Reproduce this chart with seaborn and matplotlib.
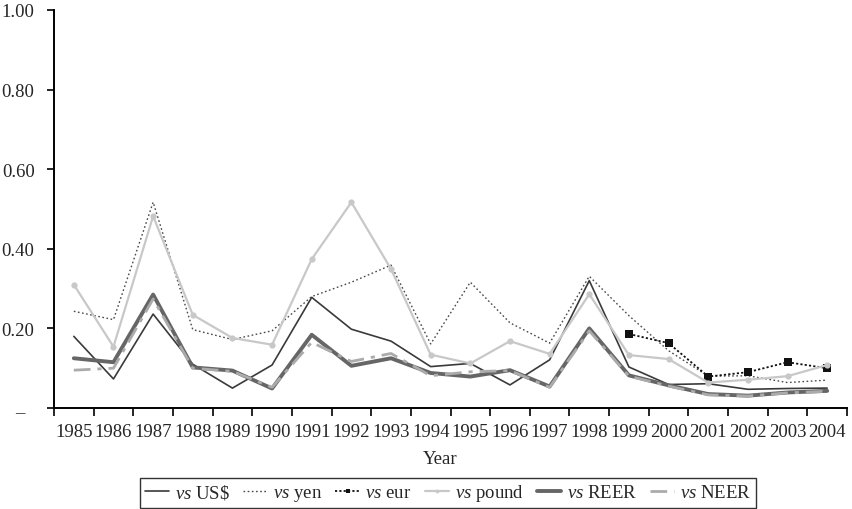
import numpy as np
import pandas as pd
import matplotlib
matplotlib.use("Agg")
import matplotlib.pyplot as plt
import matplotlib.transforms as mtransforms
import seaborn as sns

sns.set_theme(style="white")
plt.rcParams['font.family'] = ['Liberation Serif', 'DejaVu Serif']
plt.rcParams['mathtext.fontset'] = 'custom'
plt.rcParams['mathtext.rm'] = 'Liberation Serif'
plt.rcParams['mathtext.it'] = 'Liberation Serif:italic'

years = list(range(1985, 2005))
usd = [0.180, 0.073, 0.236, 0.110, 0.050, 0.108, 0.278, 0.198, 0.168, 0.104, 0.112, 0.058, 0.121, 0.320, 0.103, 0.059, 0.061, 0.047, 0.049, 0.050]
yen = [0.243, 0.222, 0.517, 0.197, 0.172, 0.194, 0.280, 0.316, 0.359, 0.161, 0.316, 0.214, 0.163, 0.331, 0.232, 0.144, 0.080, 0.081, 0.064, 0.070]
eur = [np.nan] * 14 + [0.186, 0.163, 0.079, 0.090, 0.115, 0.100]
pound = [0.310, 0.154, 0.482, 0.234, 0.176, 0.159, 0.374, 0.517, 0.349, 0.134, 0.112, 0.168, 0.136, 0.286, 0.133, 0.123, 0.064, 0.071, 0.080, 0.108]
reer = [0.125, 0.115, 0.285, 0.102, 0.094, 0.049, 0.184, 0.106, 0.125, 0.088, 0.079, 0.095, 0.054, 0.200, 0.082, 0.057, 0.035, 0.031, 0.039, 0.043]
neer = [0.095, 0.100, 0.274, 0.100, 0.092, 0.052, 0.165, 0.117, 0.137, 0.081, 0.091, 0.094, 0.052, 0.194, 0.080, 0.055, 0.033, 0.030, 0.038, 0.042]

labels = [r"$\it{vs}$ US\$", r"$\it{vs}$ yen", r"$\it{vs}$ eur", r"$\it{vs}$ pound", r"$\it{vs}$ REER", r"$\it{vs}$ NEER"]
series = [usd, yen, eur, pound, reer, neer]
ytick_vals = [0, 0.2, 0.4, 0.6, 0.8, 1.0]
ytick_labels = ["–", "0.20", "0.40", "0.60", "0.80", "1.00"]

styles = [
    dict(color="#3a3a3a", lw=1.2, ls="-", marker=None),
    dict(color="#4a4a4a", lw=1.0, ls=(0, (1.2, 1.8)), marker=None),
    dict(color="#111111", lw=1.3, ls=(0, (1.2, 1.2)), marker="s", ms=5.5),
    dict(color="#c8c8c8", lw=1.6, ls="-", marker="o", ms=4.5),
    dict(color="#666666", lw=2.8, ls="-", marker=None),
    dict(color="#ababab", lw=2.0, ls=(0, (6, 2.5, 1.5, 2.5)), marker=None),
]

fig = plt.figure(figsize=(8.52, 5.10), dpi=100)
ax = fig.add_axes([54/852, 1 - 409/510, (847-54)/852, (409-11)/510])

for lab, vals, st in zip(labels, series, styles):
    df = pd.DataFrame({"year": years, "value": vals})
    kw = dict(color=st["color"], linewidth=st["lw"], linestyle=st["ls"], label=lab)
    if st["marker"]:
        kw.update(marker=st["marker"], markersize=st["ms"], markeredgewidth=0,
                  markerfacecolor=st["color"])
    sns.lineplot(data=df, x="year", y="value", ax=ax, **kw)

ax.set_xlim(1984.5, 2004.5)
ax.set_ylim(0, 1.0)
ax.set_xticks(years)
ax.set_xticklabels([str(y) for y in years], fontsize=13.5)
ax.set_xticks(np.arange(1984.5, 2005.0, 1.0), minor=True)
ax.tick_params(axis='x', which='major', length=0, pad=11)
ax.tick_params(axis='x', which='minor', length=6, width=1.2, color='black', direction='out', bottom=True)
ax.set_yticks(ytick_vals)
ax.set_yticklabels(ytick_labels, fontsize=13.5)
ax.tick_params(axis='y', which='major', length=5, width=1.2, color='black', direction='out', left=True, pad=9)

# shift the zero-dash label left, as in the reference
zero_lbl = ax.get_yticklabels()[0]
zero_lbl.set_transform(zero_lbl.get_transform() +
                       mtransforms.ScaledTranslation(-10/100, -3/100, fig.dpi_scale_trans))

for s in ["top", "right"]:
    ax.spines[s].set_visible(False)
for s in ["left", "bottom"]:
    ax.spines[s].set_color("black")
    ax.spines[s].set_linewidth(1.4)

ax.set_xlabel("Year", fontsize=13.5)
ax.xaxis.label.set_verticalalignment('center')
ax.xaxis.set_label_coords((440 - 54) / (847 - 54), (409 - 460) / (409 - 11))
ax.set_ylabel("")
ax.grid(False)

leg = ax.legend(loc="center", bbox_to_anchor=(448/852, 1 - 494/510), bbox_transform=fig.transFigure,
                ncol=6, frameon=True, fancybox=False, fontsize=13.5, handlelength=1.3,
                handletextpad=0.3, columnspacing=0.7, borderpad=0.25, markerscale=0.6)
leg.get_frame().set_edgecolor("black")
leg.get_frame().set_linewidth(1.0)

fig.savefig("out.png", dpi=100)
